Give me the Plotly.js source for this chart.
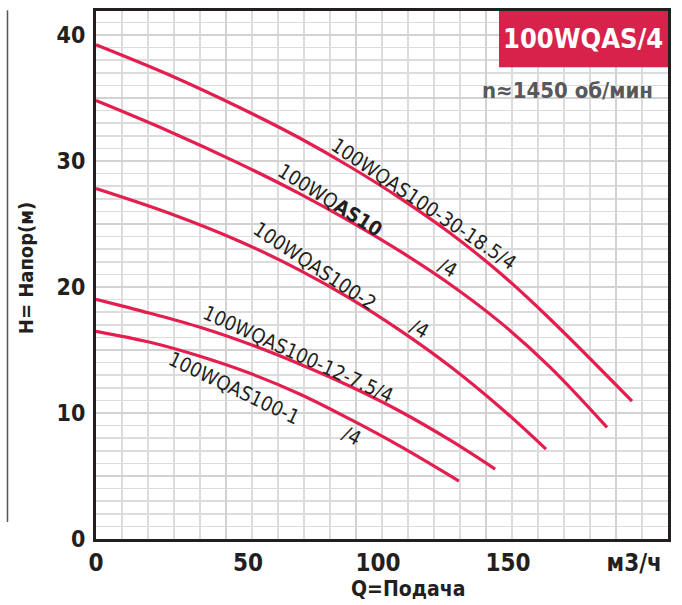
<!DOCTYPE html>
<html>
<head>
<meta charset="utf-8">
<script src="https://cdn.plot.ly/plotly-3.0.1.min.js"></script>
<style>
  html, body { margin: 0; padding: 0; background: #ffffff; }
  #chart { width: 682px; height: 605px; }
</style>
</head>
<body>
<div id="chart"></div>
<script>
// ---- data (Q in m3/h, H in m) ----
const curveNames = ["100WQAS100-30-18.5/4", "100WQAS100/4", "100WQAS100-2/4", "100WQAS100-12-7.5/4", "100WQAS100-1/4"];
const qA = [0, 28.46, 55.38, 78.46, 97.69, 116.92, 136.15, 155.38, 174.62, 206.15];
const hA = [39.22, 36.80, 34.22, 31.80, 29.54, 27.05, 24.28, 21.11, 17.46, 10.94];
const qB = [0, 28.46, 55.38, 78.46, 97.69, 116.92, 136.15, 155.38, 174.62, 196.54];
const hB = [34.79, 32.32, 29.77, 27.39, 25.21, 22.84, 20.22, 17.21, 13.64, 8.86];
const qC = [0, 28.46, 55.38, 78.46, 97.69, 116.92, 136.15, 155.38, 173.08];
const hC = [27.81, 25.83, 23.61, 21.32, 19.10, 16.56, 13.71, 10.46, 7.13];
const qD = [0, 20.8, 40.0, 59.2, 78.5, 97.7, 116.9, 136.2, 153.5];
const hD = [19.02, 17.91, 16.80, 15.45, 13.87, 12.12, 10.14, 7.84, 5.55];
const qE = [0, 20.8, 40.0, 59.2, 78.5, 97.7, 116.9, 139.6];
const hE = [16.48, 15.61, 14.50, 13.15, 11.49, 9.51, 7.37, 4.60];

const xTickVals = [0, 50, 100, 150];
const xTickText = ["0", "50", "100", "150"];
const xUnit = "м3/ч";
const yTickVals = [0, 5, 10, 15, 20, 25, 30, 35, 40];
const yTickText = ["0", "", "10", "", "20", "", "30", "", "40"];

const modelTitle = "100WQAS/4";
const speedText = "n≈1450 об/мин";
const xTitle = "Q=Подача";
const yTitle = "H= Напор(м)";

// ---- style ----
const RED = "#e21f4f";
const DARK = "#231f20";
const FONT = "DejaVu Sans Condensed, DejaVu Sans, sans-serif";
const LABEL_SHIFT = 8.5; // printed tick labels sit to the right of their grid lines

const series = [[qA, hA], [qB, hB], [qC, hC], [qD, hD], [qE, hE]];
const traces = series.map((s, i) => ({
  type: "scatter", mode: "lines", name: curveNames[i],
  x: s[0], y: s[1], xaxis: "x", yaxis: "y",
  line: { color: RED, width: 3.2, shape: "spline", smoothing: 1 },
  hoverinfo: "skip", showlegend: false
}));
// empty trace so the label axis is drawn
traces.push({ type: "scatter", mode: "lines", x: [], y: [], xaxis: "x2", yaxis: "y", showlegend: false, hoverinfo: "skip" });

const lblFont = { family: FONT, size: 20, color: DARK };
const annotations = [
  { x: 126.2, y: 26.6, text: "100WQAS100-30-18.5/4", textangle: 34 },
  { x: 90, y: 26.9, text: "100WQ<b>AS10</b>", textangle: 32 },
  { x: 135.4, y: 21.5, text: "/4", textangle: 30 },
  { x: 84.2, y: 21.7, text: "100WQAS100-2", textangle: 33.5 },
  { x: 124.6, y: 16.7, text: "/4", textangle: 30 },
  { x: 77.7, y: 14.66, text: "100WQAS100-12-7.5/4", textangle: 24.5 },
  { x: 53.1, y: 11.97, text: "100WQAS100-1", textangle: 25.5 },
  { x: 98.5, y: 8.16, text: "/4", textangle: 28 }
].map(a => Object.assign({ xref: "x", yref: "y", showarrow: false, xanchor: "center", yanchor: "middle", font: lblFont }, a));

annotations.push(
  { xref: "paper", yref: "paper", x: 0.851, y: 0.9485, xanchor: "center", yanchor: "middle",
    text: "<b>" + modelTitle + "</b>", showarrow: false,
    font: { family: FONT, size: 27, color: "#ffffff" } },
  { xref: "paper", yref: "paper", x: 0.977, y: (539 - 90) / 528.3, xanchor: "right", yanchor: "middle",
    text: "<b>" + speedText + "</b>", showarrow: false,
    font: { family: FONT, size: 22, color: "#58585a" } },
  { xref: "paper", yref: "paper", x: (408 - 96) / 572, y: (539 - 589) / 528.3, xanchor: "center", yanchor: "middle",
    text: "<b>" + xTitle + "</b>", showarrow: false,
    font: { family: FONT, size: 21, color: DARK } },
  { xref: "paper", yref: "paper", x: (26 - 96) / 572, y: (539 - 268) / 528.3, xanchor: "center", yanchor: "middle",
    text: "<b>" + yTitle + "</b>", textangle: -90, showarrow: false,
    font: { family: FONT, size: 20, color: DARK } }
);

const layout = {
  width: 682, height: 605,
  margin: { l: 96, r: 14, t: 11, b: 66 },
  paper_bgcolor: "#ffffff", plot_bgcolor: "#ffffff",
  showlegend: false,
  xaxis: {
    range: [0, 220], tickmode: "linear", tick0: 0, dtick: 50,
    showticklabels: false, ticks: "",
    showgrid: true, gridcolor: "#d2d2d2", gridwidth: 2.5,
    minor: { dtick: 10, showgrid: true, gridcolor: "#dcdcdc", gridwidth: 1.5 },
    showline: true, mirror: true, linecolor: DARK, linewidth: 3, zeroline: false
  },
  xaxis2: {
    overlaying: "x", anchor: "y", side: "bottom",
    range: [-LABEL_SHIFT, 220 - LABEL_SHIFT],
    tickmode: "array",
    tickvals: [-LABEL_SHIFT].concat(xTickVals.slice(1), [207 - LABEL_SHIFT]),
    ticktext: xTickText.concat([xUnit]),
    tickfont: { family: FONT, size: 24, color: DARK, weight: "bold" },
    ticks: "", ticklabelstandoff: 7, showgrid: false, zeroline: false, showline: false
  },
  yaxis: {
    range: [0, 41.9], tickmode: "array", tickvals: yTickVals, ticktext: yTickText,
    tickfont: { family: FONT, size: 23, color: DARK, weight: "bold" },
    ticks: "", ticklabelstandoff: 3,
    showgrid: true, gridcolor: "#d2d2d2", gridwidth: 2.5,
    minor: { dtick: 1, showgrid: true, gridcolor: "#dcdcdc", gridwidth: 1.5 },
    showline: true, mirror: true, linecolor: DARK, linewidth: 3, zeroline: false
  },
  shapes: [
    { type: "rect", xref: "paper", yref: "paper", x0: 0.7045, x1: 1, y0: 0.8934, y1: 1,
      fillcolor: "#d7234b", line: { width: 0 }, layer: "above" },
    { type: "line", xref: "paper", yref: "paper", x0: (7.5 - 96) / 572, x1: (7.5 - 96) / 572,
      y0: (539 - 10) / 528.3, y1: (539 - 522) / 528.3, line: { color: "#555555", width: 1.5 } }
  ],
  annotations: annotations
};

Plotly.newPlot("chart", traces, layout, { staticPlot: true, displayModeBar: false });
</script>
</body>
</html>
